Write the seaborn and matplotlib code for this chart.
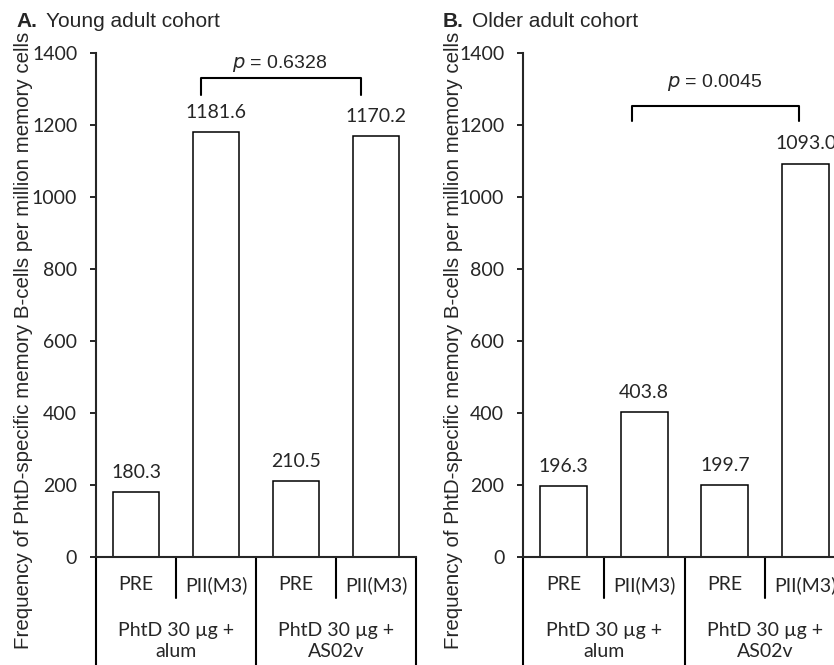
import numpy as np
import pandas as pd
import seaborn as sns
import matplotlib.pyplot as plt

sns.set_style("ticks")
plt.rcParams['font.family'] = ['Lato', 'DejaVu Sans']

# datos
slots = ["alum PRE", "alum PII", "AS02v PRE", "AS02v PII"]
timepoints = ["PRE", "PII(M3)", "PRE", "PII(M3)"]
groups = ["PhtD 30 µg +\nalum", "PhtD 30 µg +\nAS02v"]
young = [180.3, 1181.6, 210.5, 1170.2]
older = [196.3, 403.8, 199.7, 1093.0]
p_young = "0.6328"
p_older = "0.0045"

ylabel = "Frequency of PhtD-specific memory B-cells per million memory cells"
ARIAL = ["Liberation Sans", "DejaVu Sans"]

fig = plt.figure(figsize=(8.34, 6.65), dpi=100)
ax_a = fig.add_axes([0.1151, 0.1624, 0.3837, 0.7579])
ax_b = fig.add_axes([0.6271, 0.1624, 0.3873, 0.7579])


def panel(ax, values, pval, bracket, ptext, label_x):
    df = pd.DataFrame({"slot": slots, "value": values})
    sns.barplot(data=df, x="slot", y="value", order=slots, ax=ax,
                color="white", edgecolor="black", linewidth=1.1,
                width=0.58, saturation=1)
    for c in ax.containers:
        ax.bar_label(c, fmt="%.1f", padding=8, fontsize=14)
    ax.set_xlim(-0.5, 3.5)
    ax.set_ylim(0, 1400)
    ax.set_yticks(np.arange(0, 1401, 200))
    ax.tick_params(axis="y", length=4.5, width=1.4, pad=9, labelsize=14)
    ax.set_xticks(range(4))
    ax.set_xticklabels(timepoints, fontsize=14)
    ax.tick_params(axis="x", length=0, pad=14)
    ax.set_xlabel("")
    ax.set_ylabel("")
    sns.despine(ax=ax)
    for s in ["left", "bottom"]:
        ax.spines[s].set_linewidth(1.5)

    # tabla de categorias bajo el eje
    tr = ax.get_xaxis_transform()
    for x in [-0.5, 1.5, 3.5]:
        ax.plot([x, x], [0, -0.35], color="black", lw=1.5, transform=tr, clip_on=False)
    for x in [0.5, 2.5]:
        ax.plot([x, x], [0, -0.081], color="black", lw=1.5, transform=tr, clip_on=False)
    for i, g in enumerate(groups):
        ax.text(0.5 + 2 * i, -0.167, g, transform=tr, ha="center", va="center",
                fontsize=14, linespacing=1.25)

    # corchete con valor p
    x0, x1, ytop, ybot = bracket
    ax.plot([x0, x0, x1, x1], [ybot, ytop, ytop, ybot], color="black", lw=1.5, clip_on=False)
    ax.text(ptext[0], ptext[1], "$p$ = " + pval, ha="center", va="center",
            fontsize=14, family=ARIAL)

    ax.text(label_x, 0.43, ylabel, transform=ax.transAxes, rotation=90,
            ha="center", va="center", fontsize=14.8, family=ARIAL)


panel(ax_a, young, p_young, (0.81, 2.81, 1330, 1283), (1.8, 1372), -0.228)
panel(ax_b, older, p_older, (0.85, 2.92, 1253, 1211), (1.88, 1317), -0.214)

# titulos de los paneles
for xb, xt, letter, title in [(16, 46, "A.", "Young adult cohort"),
                              (443, 472, "B.", "Older adult cohort")]:
    fig.text(xb / 834, 1 - 27 / 665, letter, fontsize=15, fontweight="bold",
             va="baseline", family=ARIAL)
    fig.text(xt / 834, 1 - 27 / 665, title, fontsize=15,
             va="baseline", family=ARIAL)

fig.savefig("out.png", dpi=100)
